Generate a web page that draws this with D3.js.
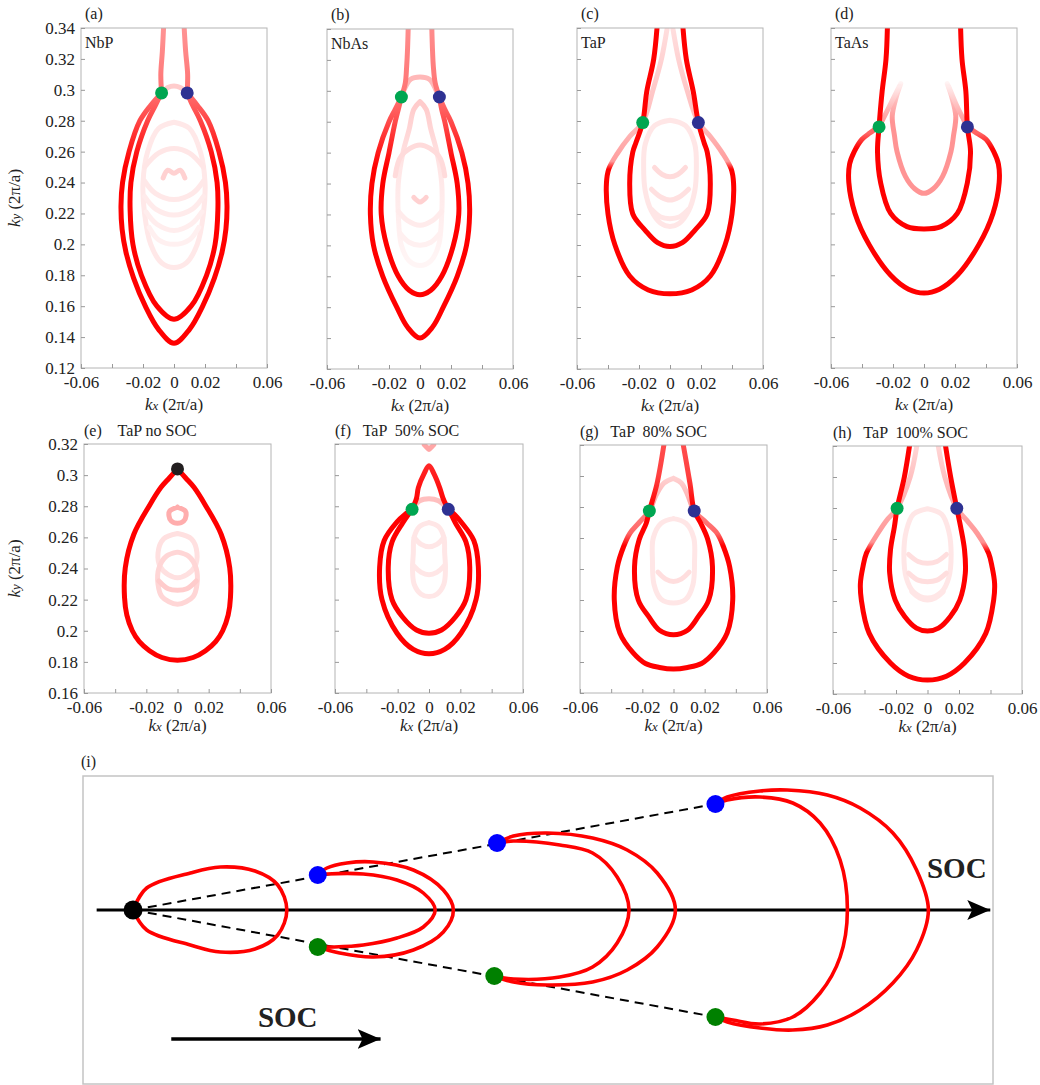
<!DOCTYPE html>
<html><head><meta charset="utf-8">
<script src="https://cdn.jsdelivr.net/npm/d3@7"></script>
<style>
body{margin:0;background:#fff}
text{font-family:"Liberation Serif","Times New Roman",Times,serif;fill:#222}
</style>
</head><body>
<svg id="c" width="1040" height="1085"></svg>
<script>
// ---------------- tick data ----------------
const kxTicks=[-0.06,-0.04,-0.02,0,0.02,0.04,0.06];
const kxTickLabels=["-0.06","","-0.02","0","0.02","","0.06"];
const kyTicksTop=[0.12,0.14,0.16,0.18,0.2,0.22,0.24,0.26,0.28,0.3,0.32,0.34];
const kyTickLabelsTop=["0.12","0.14","0.16","0.18","0.2","0.22","0.24","0.26","0.28","0.3","0.32","0.34"];
const kyTicksBottom=[0.16,0.18,0.2,0.22,0.24,0.26,0.28,0.3,0.32];
const kyTickLabelsBottom=["0.16","0.18","0.2","0.22","0.24","0.26","0.28","0.3","0.32"];

// ---------------- (a) NbP ----------------
const aOuter=[[-0.008,0.298],[-0.015,0.29],[-0.022,0.28],[-0.029,0.26],[-0.0332,0.24],[-0.0342,0.225],[-0.0335,0.21],[-0.031,0.195],[-0.026,0.178],[-0.0185,0.16],[-0.010,0.145],[0,0.136],[0.010,0.145],[0.0185,0.16],[0.026,0.178],[0.031,0.195],[0.0335,0.21],[0.0342,0.225],[0.0332,0.24],[0.029,0.26],[0.022,0.28],[0.015,0.29],[0.0085,0.298]];
const aInner=[[-0.008,0.298],[-0.012,0.29],[-0.017,0.28],[-0.024,0.26],[-0.0278,0.24],[-0.0283,0.222],[-0.0265,0.20],[-0.021,0.18],[-0.011,0.16],[0,0.1515],[0.011,0.16],[0.021,0.18],[0.0265,0.20],[0.0283,0.222],[0.0278,0.24],[0.024,0.26],[0.017,0.28],[0.012,0.29],[0.0085,0.298]];
const aTailL=[[-0.008,0.298],[-0.0085,0.31],[-0.0075,0.325],[-0.0065,0.345]];
const aTailR=[[0.0085,0.298],[0.0088,0.31],[0.0075,0.325],[0.0063,0.345]];
const aArc=[[-0.008,0.298],[-0.004,0.3015],[0,0.3025],[0.004,0.3015],[0.0085,0.298]];
const aFaint1=[[0,0.279],[-0.01,0.275],[-0.017,0.26],[-0.02,0.24],[-0.019,0.22],[-0.015,0.2],[-0.008,0.188],[0,0.185],[0.008,0.188],[0.015,0.2],[0.019,0.22],[0.02,0.24],[0.017,0.26],[0.01,0.275],[0,0.279]];
const aFaint2=[[-0.019,0.25],[-0.01,0.259],[0,0.262],[0.01,0.259],[0.019,0.25]];
const aFaint3=[[-0.007,0.243],[-0.004,0.248],[0,0.246],[0.004,0.248],[0.007,0.243]];
const aFaint4=[[-0.019,0.241],[-0.012,0.233],[0,0.229],[0.012,0.233],[0.019,0.241]];
const aFaint5=[[-0.019,0.231],[-0.012,0.223],[0,0.219],[0.012,0.223],[0.019,0.231]];
const aFaint6=[[-0.018,0.221],[-0.011,0.213],[0,0.209],[0.011,0.213],[0.018,0.221]];
const aFaint7=[[-0.016,0.211],[-0.01,0.203],[0,0.2],[0.01,0.203],[0.016,0.211]];
const aDots=[{kx:-0.008,ky:0.298,type:"green"},{kx:0.0085,ky:0.298,type:"navy"}];

// ---------------- (b) NbAs ----------------
const bOuter=[[-0.012,0.296],[-0.016,0.288],[-0.020,0.28],[-0.027,0.26],[-0.031,0.24],[-0.032,0.22],[-0.030,0.20],[-0.024,0.18],[-0.015,0.16],[-0.008,0.147],[0,0.14],[0.008,0.147],[0.015,0.16],[0.024,0.18],[0.030,0.20],[0.032,0.22],[0.031,0.24],[0.027,0.26],[0.020,0.28],[0.016,0.288],[0.0125,0.296]];
const bInner=[[-0.012,0.296],[-0.014,0.288],[-0.016,0.28],[-0.020,0.26],[-0.024,0.24],[-0.025,0.22],[-0.0215,0.20],[-0.014,0.18],[-0.007,0.171],[0,0.168],[0.007,0.171],[0.014,0.18],[0.0215,0.20],[0.025,0.22],[0.024,0.24],[0.020,0.26],[0.016,0.28],[0.014,0.288],[0.0125,0.296]];
const bTailL=[[-0.012,0.296],[-0.0095,0.305],[-0.0086,0.316],[-0.008,0.328],[-0.0075,0.345]];
const bTailR=[[0.0125,0.296],[0.0098,0.305],[0.0086,0.316],[0.008,0.328],[0.0075,0.345]];
const bArc=[[-0.0105,0.3],[-0.006,0.3075],[0,0.309],[0.006,0.3075],[0.0105,0.3]];
const bFaint1=[[0,0.293],[-0.004,0.288],[-0.007,0.275],[-0.011,0.26],[-0.014,0.24],[-0.014,0.22],[-0.012,0.2],[-0.007,0.19],[0,0.187],[0.007,0.19],[0.012,0.2],[0.014,0.22],[0.014,0.24],[0.011,0.26],[0.007,0.275],[0.004,0.288],[0,0.293]];
const bFaint2=[[-0.016,0.245],[-0.012,0.258],[0,0.265],[0.012,0.258],[0.016,0.245]];
const bFaint3=[[-0.014,0.222],[-0.008,0.216],[0,0.213],[0.008,0.216],[0.014,0.222]];
const bFaint4=[[-0.013,0.208],[-0.007,0.202],[0,0.2],[0.007,0.202],[0.013,0.208]];
const bFaint5=[[-0.004,0.231],[0,0.228],[0.004,0.231]];
const bDots=[{kx:-0.012,ky:0.296,type:"green"},{kx:0.0125,ky:0.296,type:"navy"}];

// ---------------- (c) TaP ----------------
const cOuter=[[-0.001,0.345],[-0.0055,0.32],[-0.011,0.3],[-0.0176,0.279],[-0.026,0.27],[-0.034,0.259],[-0.0395,0.249],[-0.041,0.24],[-0.040,0.22],[-0.0355,0.20],[-0.026,0.18],[-0.014,0.171],[0,0.1685],[0.014,0.171],[0.026,0.18],[0.0355,0.20],[0.040,0.22],[0.041,0.24],[0.0395,0.249],[0.034,0.259],[0.026,0.27],[0.0183,0.279],[0.011,0.3],[0.0055,0.32],[0.001,0.345]];
const cInner=[[-0.008,0.345],[-0.0105,0.32],[-0.015,0.299],[-0.0176,0.279],[-0.022,0.266],[-0.024,0.26],[-0.026,0.24],[-0.024,0.22],[-0.016,0.2095],[-0.008,0.2015],[0,0.199],[0.008,0.2015],[0.016,0.2095],[0.024,0.22],[0.026,0.24],[0.024,0.26],[0.022,0.266],[0.0183,0.279],[0.015,0.299],[0.0105,0.32],[0.008,0.345]];
const cFaint1=[[0,0.2805],[-0.01,0.277],[-0.016,0.265],[-0.017,0.25],[-0.016,0.235],[-0.012,0.222],[-0.006,0.214],[0,0.212],[0.006,0.214],[0.012,0.222],[0.016,0.235],[0.017,0.25],[0.016,0.265],[0.01,0.277],[0,0.2805]];
const cFaint2=[[-0.01,0.25],[-0.005,0.2455],[0,0.244],[0.005,0.2455],[0.01,0.25]];
const cFaint3=[[-0.012,0.236],[-0.006,0.231],[0,0.229],[0.006,0.231],[0.012,0.236]];
const cFaint4=[[-0.012,0.223],[-0.006,0.218],[0,0.217],[0.006,0.218],[0.012,0.223]];
const cDots=[{kx:-0.0176,ky:0.279,type:"green"},{kx:0.0183,ky:0.279,type:"navy"}];

// ---------------- (d) TaAs ----------------
const dOuter=[[-0.029,0.276],[-0.035,0.272],[-0.040,0.268],[-0.045,0.26],[-0.048,0.252],[-0.0485,0.24],[-0.0445,0.22],[-0.0355,0.20],[-0.0215,0.18],[-0.010,0.171],[0,0.1685],[0.010,0.171],[0.0215,0.18],[0.0355,0.20],[0.0445,0.22],[0.0485,0.24],[0.048,0.252],[0.045,0.26],[0.040,0.268],[0.034,0.272],[0.028,0.276]];
const dInner=[[-0.0235,0.345],[-0.0245,0.32],[-0.027,0.299],[-0.029,0.276],[-0.030,0.26],[-0.028,0.24],[-0.0215,0.22],[-0.011,0.2115],[0,0.21],[0.011,0.2115],[0.0215,0.22],[0.028,0.24],[0.030,0.26],[0.028,0.276],[0.027,0.299],[0.0245,0.32],[0.0235,0.345]];
const dU=[[-0.015,0.304],[-0.018,0.295],[-0.0205,0.283],[-0.019,0.27],[-0.0174,0.26],[-0.012,0.244],[-0.006,0.236],[0,0.233],[0.006,0.236],[0.012,0.244],[0.0174,0.26],[0.019,0.27],[0.0205,0.283],[0.018,0.295],[0.015,0.304]];
const dCrossL=[[-0.029,0.276],[-0.022,0.29],[-0.016,0.302]];
const dCrossR=[[0.028,0.276],[0.021,0.29],[0.016,0.302]];
const dDots=[{kx:-0.029,ky:0.276,type:"green"},{kx:0.028,ky:0.276,type:"navy"}];

// ---------------- (e) TaP no SOC ----------------
const eLoop=[[0,0.304],[-0.0054,0.298],[-0.0107,0.292],[-0.0177,0.281],[-0.028,0.262],[-0.0335,0.2406],[-0.034,0.2214],[-0.0325,0.21],[-0.029,0.2],[-0.0245,0.193],[-0.018,0.1872],[-0.010,0.1828],[0,0.181],[0.010,0.1828],[0.018,0.1872],[0.0245,0.193],[0.029,0.2],[0.0325,0.21],[0.034,0.2214],[0.0335,0.2406],[0.028,0.262],[0.0177,0.281],[0.0107,0.292],[0.0054,0.298],[0,0.304]];
const eRing=[[0,0.2795],[-0.005,0.277],[-0.0055,0.274],[-0.004,0.2705],[0,0.269],[0.004,0.2705],[0.0055,0.274],[0.005,0.277],[0,0.2795]];
const eFaint1=[[0,0.2625],[-0.009,0.259],[-0.0125,0.25],[-0.011,0.241],[-0.006,0.236],[0,0.234],[0.006,0.236],[0.011,0.241],[0.0125,0.25],[0.009,0.259],[0,0.2625]];
const eFaint2=[[0,0.2505],[-0.007,0.248],[-0.012,0.24],[-0.0125,0.23],[-0.01,0.222],[0,0.217],[0.01,0.222],[0.0125,0.23],[0.012,0.24],[0.007,0.248],[0,0.2505]];
const eFaint3=[[-0.012,0.232],[-0.006,0.227],[0,0.226],[0.006,0.227],[0.012,0.232]];
const eDots=[{kx:0,ky:0.304,type:"black"}];

// ---------------- (f) TaP 50% SOC ----------------
const fOuter=[[-0.0108,0.278],[-0.015,0.275],[-0.0204,0.27],[-0.0286,0.258],[-0.0315,0.241],[-0.030,0.22],[-0.0204,0.1984],[-0.010,0.188],[0,0.1852],[0.010,0.188],[0.0204,0.1984],[0.030,0.22],[0.0315,0.241],[0.0286,0.258],[0.0204,0.27],[0.016,0.275],[0.0123,0.278]];
const fInner=[[-0.0108,0.278],[-0.013,0.275],[-0.017,0.269],[-0.0236,0.257],[-0.026,0.241],[-0.0236,0.22],[-0.017,0.209],[-0.008,0.2005],[0,0.1984],[0.008,0.2005],[0.017,0.209],[0.0236,0.22],[0.026,0.241],[0.0236,0.257],[0.017,0.269],[0.014,0.275],[0.0123,0.278]];
const fTip=[[-0.0108,0.278],[-0.008,0.285],[-0.0068,0.292],[-0.0032,0.3008],[0,0.306],[0.0032,0.3008],[0.0068,0.292],[0.009,0.285],[0.0123,0.278]];
const fArc=[[-0.0108,0.278],[-0.006,0.2835],[0,0.2848],[0.006,0.2835],[0.0123,0.278]];
const fHeart=[[-0.003,0.3195],[-0.0015,0.318],[0,0.3165],[0.0015,0.318],[0.003,0.3195]];
const fFaint1=[[0,0.2695],[-0.006,0.267],[-0.0095,0.26],[-0.01,0.25],[-0.0105,0.24],[-0.0095,0.23],[-0.005,0.2235],[0,0.222],[0.005,0.2235],[0.0095,0.23],[0.0105,0.24],[0.01,0.25],[0.0095,0.26],[0.006,0.267],[0,0.2695]];
const fFaint2=[[-0.01,0.242],[-0.005,0.2375],[0,0.236],[0.005,0.2375],[0.01,0.242]];
const fFaint3=[[-0.0095,0.26],[-0.005,0.2555],[0,0.254],[0.005,0.2555],[0.0095,0.26]];
const fDots=[{kx:-0.0108,ky:0.278,type:"green"},{kx:0.0123,ky:0.278,type:"navy"}];

// ---------------- (g) TaP 80% SOC ----------------
const gOuter=[[0,0.2985],[-0.006,0.2955],[-0.011,0.288],[-0.0155,0.2775],[-0.022,0.27],[-0.028,0.263],[-0.032,0.2545],[-0.036,0.2416],[-0.038,0.22],[-0.0344,0.1986],[-0.026,0.186],[-0.018,0.179],[-0.009,0.1765],[0,0.1755],[0.009,0.1765],[0.018,0.179],[0.026,0.186],[0.0344,0.1986],[0.038,0.22],[0.036,0.2416],[0.032,0.2545],[0.028,0.263],[0.021,0.27],[0.0133,0.2775],[0.009,0.288],[0.005,0.2955],[0,0.2985]];
const gInner=[[-0.0054,0.325],[-0.0106,0.295],[-0.0155,0.2775],[-0.0175,0.2695],[-0.022,0.259],[-0.025,0.2416],[-0.0226,0.22],[-0.016,0.2094],[-0.009,0.2005],[0,0.1976],[0.009,0.2005],[0.016,0.2094],[0.0226,0.22],[0.025,0.2416],[0.022,0.259],[0.0175,0.2695],[0.0133,0.2775],[0.0106,0.295],[0.0054,0.325]];
const gFaint1=[[0,0.2725],[-0.008,0.2695],[-0.013,0.26],[-0.0135,0.245],[-0.0125,0.23],[-0.008,0.2205],[0,0.218],[0.008,0.2205],[0.0125,0.23],[0.0135,0.245],[0.013,0.26],[0.008,0.2695],[0,0.2725]];
const gFaint2=[[-0.01,0.238],[-0.005,0.2335],[0,0.232],[0.005,0.2335],[0.01,0.238]];
const gDots=[{kx:-0.0155,ky:0.2775,type:"green"},{kx:0.0133,ky:0.2775,type:"navy"}];

// ---------------- (h) TaP 100% SOC ----------------
const hOuter=[[-0.006,0.325],[-0.011,0.3],[-0.0193,0.2798],[-0.026,0.272],[-0.0315,0.2637],[-0.0388,0.2508],[-0.041,0.242],[-0.0426,0.2314],[-0.042,0.2206],[-0.037,0.1991],[-0.0235,0.18],[-0.012,0.1715],[0,0.169],[0.012,0.1715],[0.0235,0.18],[0.037,0.1991],[0.042,0.2206],[0.0426,0.2314],[0.041,0.242],[0.0388,0.2508],[0.0315,0.2637],[0.025,0.272],[0.0186,0.2798],[0.011,0.3],[0.006,0.325]];
const hInner=[[-0.0107,0.325],[-0.0147,0.300],[-0.0193,0.2798],[-0.021,0.268],[-0.0235,0.253],[-0.024,0.2378],[-0.0205,0.2206],[-0.0145,0.21],[-0.007,0.2025],[0,0.2006],[0.007,0.2025],[0.0145,0.21],[0.0205,0.2206],[0.024,0.2378],[0.0235,0.253],[0.021,0.268],[0.0186,0.2798],[0.0147,0.3],[0.0107,0.325]];
const hFaint1=[[0,0.2795],[-0.009,0.276],[-0.0135,0.265],[-0.015,0.25],[-0.0135,0.235],[-0.009,0.226],[0,0.222],[0.009,0.226],[0.0135,0.235],[0.015,0.25],[0.0135,0.265],[0.009,0.276],[0,0.2795]];
const hFaint2=[[-0.012,0.25],[-0.006,0.2455],[0,0.2443],[0.006,0.2455],[0.012,0.25]];
const hFaint3=[[-0.012,0.238],[-0.006,0.2335],[0,0.2325],[0.006,0.2335],[0.012,0.238]];
const hFaint4=[[-0.01,0.226],[-0.005,0.222],[0,0.2206],[0.005,0.222],[0.01,0.226]];
const hDots=[{kx:-0.0193,ky:0.2798,type:"green"},{kx:0.0186,ky:0.2798,type:"navy"}];

// ---------------- (i) schematic (arbitrary units) ----------------
const iLoop0=[[5.5,0],[7.0,2.2],[11.8,3.7],[15.1,4.3],[18.9,3.9],[21.4,2.5],[22.4,0],[21.4,-2.5],[18.9,-3.9],[15.1,-4.2],[11.8,-3.5],[7.0,-2.0],[5.5,0]];
const iOuter50=[[25.8,3.5],[26.8,4.2],[29.0,4.7],[31.9,4.8],[36.3,4.0],[39.6,2.0],[40.7,0],[39.6,-2.2],[36.3,-4.0],[31.9,-4.7],[28.2,-4.3],[25.8,-3.7]];
const iInner50=[[25.8,3.5],[26.8,3.6],[30.8,3.6],[34.5,3.0],[37.4,1.7],[38.7,0],[37.4,-1.7],[34.5,-2.8],[30.8,-3.5],[27.5,-3.7],[25.8,-3.7]];
const iOuter80=[[45.5,6.7],[47.3,7.4],[51.0,7.7],[56.0,7.2],[59.8,6.0],[63.1,3.7],[65.1,0],[63.1,-3.7],[59.8,-6.0],[56.0,-7.2],[51.0,-7.5],[47.3,-7.2],[45.2,-6.6]];
const iInner80=[[45.5,6.7],[47.3,6.9],[52.4,6.5],[56.0,5.7],[58.7,3.3],[60.0,0],[58.7,-3.3],[56.0,-5.7],[52.4,-6.7],[47.3,-6.9],[45.2,-6.6]];
const iOuter100=[[69.5,10.6],[70.8,11.3],[74.4,11.9],[77.4,12.0],[81.8,11.5],[85.4,10.2],[89.0,7.7],[91.6,4.0],[92.9,0],[91.6,-4.0],[89.0,-7.3],[85.4,-10.0],[81.8,-11.5],[78.0,-12.0],[74.4,-11.8],[70.8,-11.2],[69.5,-10.7]];
const iInner100=[[69.5,10.6],[70.8,11.0],[74.4,11.3],[78.0,10.7],[81.0,8.7],[83.2,5.0],[84.0,0],[83.2,-4.7],[81.0,-8.3],[78.0,-10.7],[74.4,-11.4],[71.4,-11.0],[69.5,-10.7]];
const iBlueDots=[[25.8,3.5],[45.5,6.7],[69.5,10.6]];
const iGreenDots=[[25.8,-3.7],[45.2,-6.6],[69.5,-10.7]];
const iOrigin=[5.5,0];
const iDashUpper=[[5.5,0],[69.5,10.6]];
const iDashLower=[[5.5,0],[69.5,-10.7]];
const iAxis=[[1.5,0],[99.7,0]];
const iSocArrow=[[9.7,-12.9],[32.7,-12.9]];

// ---------------- layout ----------------
const svg=d3.select("#c");
const defs=svg.append("defs");
const mix=a=>d3.interpolateRgb("#ffffff","#ff0000")(a);
const dotColor={green:"#00a651",navy:"#2e3192",black:"#231f20"};

const panels=[
 {letter:"(a)",name:"NbP",x:81,y:28,w:186,h:340,yDom:[0.12,0.34],top:true,yLab:true,dots:aDots,
  curves:[[aFaint1,[[0,0.09]]],[aFaint2,[[0,0.1]]],[aFaint3,[[0,0.18]]],[aFaint4,[[0,0.09]]],[aFaint5,[[0,0.08]]],[aFaint6,[[0,0.07]]],[aFaint7,[[0,0.06]]],[aArc,[[0,0.2]]],
   [aTailL,[[0.298,0.55],[0.34,0.42]]],[aTailR,[[0.298,0.55],[0.34,0.42]]],
   [aOuter,[[0.25,1],[0.3,0.55]]],[aInner,[[0.25,1],[0.3,0.55]]]]},
 {letter:"(b)",name:"NbAs",x:327,y:29,w:186,h:340,yDom:[0.12,0.34],top:true,yLab:false,dots:bDots,
  curves:[[bFaint1,[[0.19,0.04],[0.25,0.1],[0.29,0.2]]],[bFaint2,[[0,0.14]]],[bFaint3,[[0,0.08]]],[bFaint4,[[0,0.06]]],[bFaint5,[[0,0.18]]],[bArc,[[0,0.28]]],
   [bTailL,[[0.296,0.55],[0.34,0.45]]],[bTailR,[[0.296,0.55],[0.34,0.45]]],
   [bOuter,[[0.25,1],[0.296,0.55]]],[bInner,[[0.25,1],[0.296,0.55]]]]},
 {letter:"(c)",name:"TaP",x:577,y:28,w:186,h:341,yDom:[0.12,0.34],top:true,yLab:false,dots:cDots,
  curves:[[cFaint1,[[0,0.1]]],[cFaint2,[[0,0.14]]],[cFaint3,[[0,0.12]]],[cFaint4,[[0,0.1]]],
   [cOuter,[[0.249,1],[0.254,0.38],[0.28,0.26],[0.34,0.13]]],[cInner,[[0,1]]]]},
 {letter:"(d)",name:"TaAs",x:831,y:28,w:186,h:340,yDom:[0.12,0.34],top:true,yLab:false,dots:dDots,
  curves:[[dU,[[0.28,0.42],[0.292,0.28],[0.305,0.04]]],[dCrossL,[[0.276,0.45],[0.302,0.08]]],[dCrossR,[[0.276,0.45],[0.302,0.08]]],
   [dOuter,[[0.262,1],[0.272,0.6]]],[dInner,[[0,1]]]]},
 {letter:"(e)",title:"   TaP no SOC",x:84,y:444,w:187,h:249,yDom:[0.16,0.32],top:false,yLab:true,dots:eDots,
  curves:[[eFaint1,[[0,0.12]]],[eFaint2,[[0,0.16]]],[eFaint3,[[0,0.2]]],[eRing,[[0,0.32]]],[eLoop,[[0,1]]]]},
 {letter:"(f)",title:"  TaP  50% SOC",x:335,y:444,w:188,h:249,yDom:[0.16,0.32],top:false,yLab:false,dots:fDots,
  curves:[[fFaint1,[[0,0.1]]],[fFaint2,[[0,0.1]]],[fFaint3,[[0,0.1]]],[fArc,[[0,0.25]]],[fHeart,[[0,0.35]]],
   [fOuter,[[0,1]]],[fInner,[[0,1]]],[fTip,[[0.28,1],[0.306,0.85]]]]},
 {letter:"(g)",title:"  TaP  80% SOC",x:580,y:445,w:187,h:248,yDom:[0.16,0.32],top:false,yLab:false,dots:gDots,
  curves:[[gFaint1,[[0,0.1]]],[gFaint2,[[0,0.13]]],
   [gOuter,[[0.255,1],[0.263,0.6],[0.277,0.5],[0.287,0.28],[0.2985,0.18]]],[gInner,[[0.28,1],[0.3,0.75],[0.32,0.7]]]]},
 {letter:"(h)",title:"  TaP  100% SOC",x:833,y:446,w:189,h:248,yDom:[0.16,0.32],top:false,yLab:false,dots:hDots,
  curves:[[hFaint1,[[0,0.1]]],[hFaint2,[[0,0.13]]],[hFaint3,[[0,0.13]]],[hFaint4,[[0,0.1]]],
   [hOuter,[[0.252,1],[0.258,0.42],[0.28,0.33],[0.32,0.16]]],[hInner,[[0,1]]]]}
];

let gradId=0;
function kText(sel,sub){
  sel.append("tspan").attr("font-style","italic").text("k");
  sel.append("tspan").attr("font-style","italic").attr("font-size","0.75em").text(sub);
  sel.append("tspan").text(" (2π/a)");
}

panels.forEach((p,pi)=>{
  const g=svg.append("g").attr("transform",`translate(${p.x},${p.y})`);
  const x=d3.scaleLinear().domain([-0.06,0.06]).range([0,p.w]);
  const y=d3.scaleLinear().domain(p.yDom).range([p.h,0]);
  const clipId="clip"+pi;
  defs.append("clipPath").attr("id",clipId).append("rect").attr("width",p.w).attr("height",p.h);

  const plot=g.append("g").attr("clip-path",`url(#${clipId})`);
  const line=d3.line().x(d=>x(d[0])).y(d=>y(d[1])).curve(d3.curveCatmullRom.alpha(0.5));
  p.curves.forEach(([pts,fade])=>{
    let stroke;
    if(fade.length===1){stroke=mix(fade[0][1]);}
    else{
      const id="gr"+(gradId++);
      const [d0,d1]=p.yDom;
      const gr=defs.append("linearGradient").attr("id",id).attr("gradientUnits","userSpaceOnUse")
        .attr("x1",0).attr("x2",0).attr("y1",y(d1)).attr("y2",y(d0));
      fade.map(([k,a])=>({o:(d1-k)/(d1-d0),a})).sort((u,v)=>u.o-v.o)
        .forEach(s=>gr.append("stop").attr("offset",Math.max(0,Math.min(1,s.o))).attr("stop-color",mix(s.a)));
      stroke=`url(#${id})`;
    }
    plot.append("path").datum(pts).attr("d",line).attr("fill","none").attr("stroke",stroke)
      .attr("stroke-width",5).attr("stroke-linecap","round").attr("stroke-linejoin","round");
  });
  plot.selectAll("circle.dot").data(p.dots).join("circle").attr("class","dot")
    .attr("cx",d=>x(d.kx)).attr("cy",d=>y(d.ky)).attr("r",6.5).attr("fill",d=>dotColor[d.type]);

  g.append("rect").attr("width",p.w).attr("height",p.h).attr("fill","none").attr("stroke","#b4b4b4").attr("stroke-width",1);

  const xa=d3.axisBottom(x).tickValues(kxTicks).tickFormat((d,i)=>kxTickLabels[i]).tickSizeInner(-4).tickSizeOuter(0).tickPadding(8);
  const xg=g.append("g").attr("transform",`translate(0,${p.h})`).call(xa);
  xg.select(".domain").remove();
  xg.selectAll(".tick line").attr("stroke","#999");
  xg.selectAll(".tick text").attr("font-size",17).attr("fill","#222");

  const yt=p.top?kyTicksTop:kyTicksBottom, yl=p.top?kyTickLabelsTop:kyTickLabelsBottom;
  const ya=d3.axisLeft(y).tickValues(yt).tickFormat((d,i)=>p.yLab?yl[i]:"").tickSizeInner(-4).tickSizeOuter(0).tickPadding(6);
  const yg=g.append("g").call(ya);
  yg.select(".domain").remove();
  yg.selectAll(".tick line").attr("stroke","#999");
  yg.selectAll(".tick text").attr("font-size",17).attr("fill","#222");

  const kx=g.append("text").attr("x",x(0)).attr("y",p.h+(p.top?42:38)).attr("text-anchor","middle").attr("font-size",17).attr("fill","#333");
  kText(kx,"x");

  if(p.top){
    g.append("text").attr("x",4).attr("y",-9).attr("font-size",16).text(p.letter);
    g.append("text").attr("x",4).attr("y",20).attr("font-size",16).attr("fill","#333").text(p.name);
  } else {
    g.append("text").attr("x",0).attr("y",-8).attr("font-size",16).style("white-space","pre").text(p.letter+" "+p.title);
  }
  if(p.yLab){
    const ky=svg.append("text").attr("transform",`translate(20,${p.y+p.h/2}) rotate(-90)`).attr("text-anchor","middle").attr("font-size",17).attr("fill","#333");
    kText(ky,"y");
  }
});

// ---------------- panel (i) ----------------
const ib={x:83,y:776,w:910,h:308};
svg.append("text").attr("x",81).attr("y",767).attr("font-size",16).text("(i)");
svg.append("rect").attr("x",ib.x).attr("y",ib.y).attr("width",ib.w).attr("height",ib.h).attr("fill","none").attr("stroke","#c4c4c4").attr("stroke-width",1.5);
const sx=d3.scaleLinear().domain([0,100]).range([ib.x,ib.x+ib.w]);
const sy=d3.scaleLinear().domain([-10,10]).range([1010,810]);
const sline=d3.line().x(d=>sx(d[0])).y(d=>sy(d[1]));
const scurve=d3.line().x(d=>sx(d[0])).y(d=>sy(d[1])).curve(d3.curveCatmullRom.alpha(0.5));

defs.append("marker").attr("id","arrowHead").attr("markerUnits","userSpaceOnUse")
  .attr("markerWidth",24).attr("markerHeight",20).attr("refX",23).attr("refY",10).attr("orient","auto")
  .append("path").attr("d","M0,0 L23,10 L0,20 L5,10 Z").attr("fill","#000");

svg.append("path").datum(iAxis).attr("d",sline).attr("stroke","#000").attr("stroke-width",2.8).attr("fill","none").attr("marker-end","url(#arrowHead)");
[iDashUpper,iDashLower].forEach(d=>svg.append("path").datum(d).attr("d",sline).attr("stroke","#000").attr("stroke-width",2).attr("stroke-dasharray","9,6").attr("fill","none"));
[iLoop0,iOuter50,iInner50,iOuter80,iInner80,iOuter100,iInner100].forEach(d=>
  svg.append("path").datum(d).attr("d",scurve).attr("stroke","#ff0000").attr("stroke-width",3.6).attr("fill","none").attr("stroke-linecap","round"));
svg.selectAll("circle.bd").data(iBlueDots).join("circle").attr("class","bd").attr("cx",d=>sx(d[0])).attr("cy",d=>sy(d[1])).attr("r",9).attr("fill","#0000ff");
svg.selectAll("circle.gd").data(iGreenDots).join("circle").attr("class","gd").attr("cx",d=>sx(d[0])).attr("cy",d=>sy(d[1])).attr("r",9).attr("fill","#008000");
svg.append("circle").attr("cx",sx(iOrigin[0])).attr("cy",sy(iOrigin[1])).attr("r",9.5).attr("fill","#000");
svg.append("path").datum(iSocArrow).attr("d",sline).attr("stroke","#000").attr("stroke-width",3.5).attr("fill","none").attr("marker-end","url(#arrowHead)");
svg.append("text").attr("x",sx(22.5)).attr("y",sy(-11.7)).attr("text-anchor","middle").attr("font-size",29).attr("font-weight","bold").attr("fill","#333").text("SOC");
svg.append("text").attr("x",sx(99.3)).attr("y",sy(3.2)).attr("text-anchor","end").attr("font-size",29).attr("font-weight","bold").attr("fill","#333").text("SOC");
</script>
</body></html>
